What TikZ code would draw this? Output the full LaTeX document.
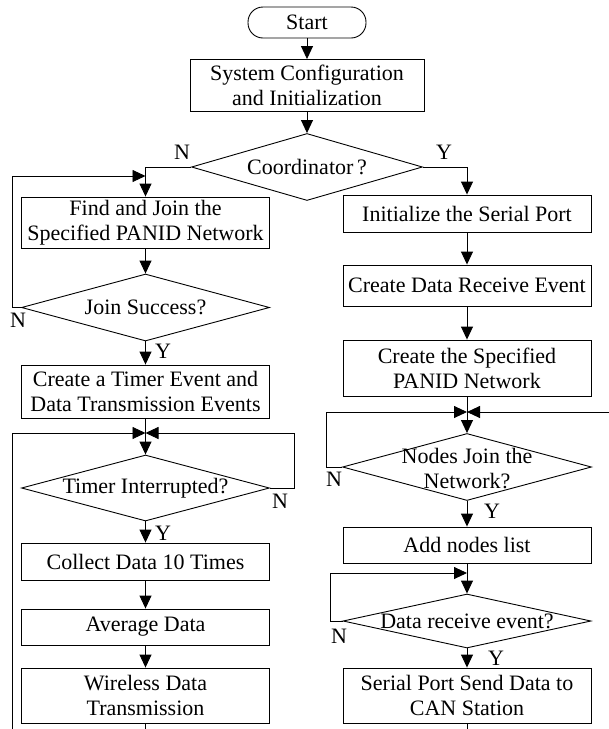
\documentclass[tikz,border=0pt]{standalone}
\usepackage{fontspec}
\setmainfont{Liberation Serif}
\usetikzlibrary{arrows.meta,shapes.geometric}
\begin{document}
\begin{tikzpicture}[x=1pt,y=-1pt,
  every node/.style={font=\fontsize{22pt}{25pt}\selectfont},
  line/.style={line width=0.9pt},
  arr/.style={line, -{Triangle[length=13pt,width=12pt]}},
  proc/.style={draw, line width=0.9pt, rectangle, minimum width=248pt, inner sep=0pt, align=center},
  term/.style={draw, line width=0.9pt, rectangle, rounded corners=15pt, minimum width=118pt, minimum height=31pt, inner sep=0pt},
  dec/.style={draw, line width=0.9pt, diamond, inner sep=0pt},
  lbl/.style={inner sep=0pt, align=center},
  yn/.style={inner sep=0pt}
]
\useasboundingbox (0,0) rectangle (609,729);

% ---- top ----
\node[term] (start) at (307,22.5) {Start};
\node[proc, minimum width=234pt, minimum height=52pt] (sys) at (307,85.5) {System Configuration\\and Initialization};
\node[dec, minimum width=231pt, minimum height=67pt] (coord) at (307,167) {};
\node[lbl] (coordT) at (coord) {Coordinator\,?};

% ---- left branch (end device) ----
\node[proc, minimum height=51pt] (find) at (145.5,222.5) {Find and Join the\\Specified PANID Network};
\node[dec, minimum width=248pt, minimum height=67pt] (join) at (145.5,307.5) {};
\node[lbl] (joinT) at (join) {Join Success?};
\node[proc, minimum height=53pt] (timerev) at (145.5,391.5) {Create a Timer Event and\\Data Transmission Events};
\coordinate (jL) at (145.5,433);
\node[dec, minimum width=248pt, minimum height=66pt] (timer) at (145.5,488) {};
\node[lbl] (timerT) at (timer) {Timer Interrupted?};
\node[proc, minimum height=37pt] (collect) at (145.5,561.5) {Collect Data 10 Times};
\node[proc, minimum height=36pt] (avg) at (145.5,627) {Average Data};
\node[proc, minimum height=55pt] (wire) at (145.5,695.5) {Wireless Data\\Transmission};

% ---- right branch (coordinator) ----
\node[proc, minimum height=37pt] (init) at (467,213.5) {Initialize the Serial Port};
\node[proc, minimum height=41pt] (recv) at (467,285.5) {Create Data Receive Event};
\node[proc, minimum height=56pt] (create) at (467,368) {Create the Specified\\PANID Network};
\coordinate (jR) at (467,412);
\node[dec, minimum width=249pt, minimum height=67pt] (nodes) at (467,467) {};
\node[lbl] (nodesT) at (467,469) {Nodes Join the\\Network?};
\node[proc, minimum height=36pt] (addl) at (467,545) {Add nodes list};
\coordinate (jR2) at (467,573);
\node[dec, minimum width=248pt, minimum height=54pt] (data) at (467,621) {};
\node[lbl] (dataT) at (data) {Data receive event?};
\node[proc, minimum height=55pt] (serial) at (467,695.5) {Serial Port Send Data to\\CAN Station};

% free ends of the loops running off the sheet
\coordinate (fl) at (145.5,176);
\coordinate (bl) at (12,729);
\coordinate (wb) at (145.5,729);
\coordinate (rr) at (609,412);
\coordinate (sb) at (467,729);

% ---- connectors ----
\draw[arr] (start) -- (sys);
\draw[arr] (sys) -- (coord);
\draw[arr] (coord.west) -| (find.north);
\draw[arr] (coord.east) -| (init.north);

\draw[arr] (find) -- (join);
\draw[arr] (join.west) -- ++(-8.5,0) |- (fl);
\draw[arr] (join) -- (timerev);
\draw[arr] (timerev) -- (timer);
\draw[arr] (timer.east) -- ++(24,0) |- (jL);
\draw[arr] (bl) |- (jL);
\draw[arr] (timer) -- (collect);
\draw[arr] (collect) -- (avg);
\draw[arr] (avg) -- (wire);
\draw[line] (wire) -- (wb);

\draw[arr] (init) -- (recv);
\draw[arr] (recv) -- (create);
\draw[arr] (create) -- (nodes);
\draw[arr] (nodes.west) -- ++(-15.5,0) |- (jR);
\draw[arr] (rr) -- (jR);
\draw[arr] (nodes) -- (addl);
\draw[arr] (addl) -- (data);
\draw[arr] (data.west) -- ++(-12,0) |- (jR2);
\draw[arr] (data) -- (serial);
\draw[line] (serial) -- (sb);

% ---- branch labels ----
\node[yn] (nC) at (182,152) {N};
\node[yn] (yC) at (444,152) {Y};
\node[yn] (nJ) at (18,320) {N};
\node[yn] (yJ) at (163,351) {Y};
\node[yn] (nT) at (280,501) {N};
\node[yn] (yT) at (163,533) {Y};
\node[yn] (nN) at (334,479) {N};
\node[yn] (yN) at (492,511) {Y};
\node[yn] (nD) at (339,636) {N};
\node[yn] (yD) at (496,658) {Y};
\end{tikzpicture}
\end{document}
